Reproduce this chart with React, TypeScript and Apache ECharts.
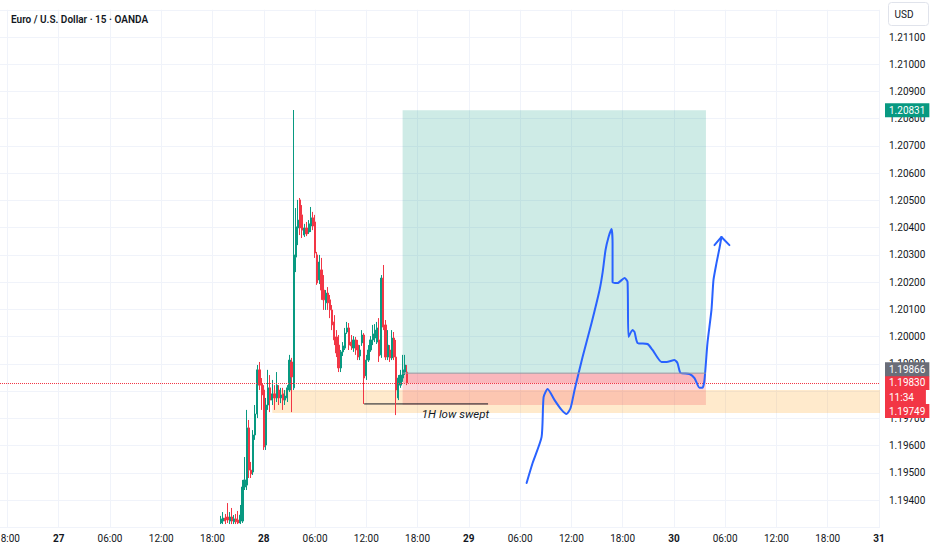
import React, { useEffect, useRef } from "react";
import * as echarts from "echarts";

const FONT = 'Roboto, "Noto Sans", sans-serif';

// ---- time axis: 15-minute slots starting 26th 17:15 ----
const SLOT_COUNT = 412;
const START_DAY = 26;
const START_MINUTES = 17 * 60 + 15;
const pad = (n: number) => (n < 10 ? "0" + n : "" + n);
const categories: string[] = [];
for (let i = 0; i < SLOT_COUNT; i++) {
  const m = START_MINUTES + 15 * i;
  const day = START_DAY + Math.floor(m / 1440);
  const mm = m % 1440;
  categories.push(`${day} ${pad(Math.floor(mm / 60))}:${pad(mm % 60)}`);
}

// ---- candles [open, close, low, high], first candle at slot 103 ----
const FIRST_CANDLE_SLOT = 103;
const candles: number[][] = [
  [1.19316, 1.19331, 1.19312, 1.19342],
  [1.19323, 1.19334, 1.19312, 1.19356],
  [1.19334, 1.19323, 1.19312, 1.19349],
  [1.19338, 1.19327, 1.19316, 1.19389],
  [1.19323, 1.19338, 1.19312, 1.19356],
  [1.19338, 1.19323, 1.19312, 1.19371],
  [1.1932, 1.19331, 1.19312, 1.19345],
  [1.19331, 1.1932, 1.19312, 1.19349],
  [1.19327, 1.19316, 1.19312, 1.1936],
  [1.19316, 1.19345, 1.19312, 1.19382],
  [1.19323, 1.19448, 1.19316, 1.19474],
  [1.19448, 1.19474, 1.19437, 1.19558],
  [1.19455, 1.19665, 1.19437, 1.19731],
  [1.19665, 1.1951, 1.19481, 1.19694],
  [1.1951, 1.19496, 1.19481, 1.1954],
  [1.19503, 1.19639, 1.19492, 1.19657],
  [1.19639, 1.19716, 1.19621, 1.19749],
  [1.19716, 1.19878, 1.19701, 1.19896],
  [1.19878, 1.19822, 1.19804, 1.19907],
  [1.19826, 1.19786, 1.19731, 1.19848],
  [1.19804, 1.19595, 1.19584, 1.19822],
  [1.19602, 1.19749, 1.19584, 1.19775],
  [1.19749, 1.19812, 1.19731, 1.19878],
  [1.19812, 1.19767, 1.19723, 1.19859],
  [1.19767, 1.1979, 1.19749, 1.19841],
  [1.1979, 1.19775, 1.19731, 1.19822],
  [1.19775, 1.19822, 1.1976, 1.1987],
  [1.19804, 1.19775, 1.19749, 1.19822],
  [1.19775, 1.19786, 1.19756, 1.19812],
  [1.1979, 1.19767, 1.19731, 1.19812],
  [1.19767, 1.19782, 1.19749, 1.19804],
  [1.19775, 1.19812, 1.1976, 1.19822],
  [1.19804, 1.19914, 1.19797, 1.19933],
  [1.19907, 1.19852, 1.19723, 1.19922],
  [1.19812, 1.203, 1.19804, 1.20832],
  [1.20292, 1.20403, 1.20237, 1.20472],
  [1.20399, 1.20428, 1.20336, 1.20502],
  [1.20502, 1.20399, 1.20373, 1.20509],
  [1.20447, 1.20391, 1.20362, 1.20483],
  [1.20373, 1.20399, 1.20366, 1.20414],
  [1.20399, 1.20377, 1.20369, 1.20421],
  [1.20384, 1.20414, 1.20377, 1.20428],
  [1.20406, 1.20436, 1.20384, 1.20476],
  [1.20436, 1.20406, 1.20391, 1.20458],
  [1.20421, 1.20307, 1.20289, 1.20447],
  [1.203, 1.20197, 1.2019, 1.20311],
  [1.20208, 1.20274, 1.20193, 1.203],
  [1.20245, 1.20171, 1.20135, 1.20289],
  [1.20171, 1.20135, 1.20098, 1.20226],
  [1.20124, 1.2016, 1.20098, 1.20171],
  [1.2016, 1.20124, 1.20098, 1.20182],
  [1.20135, 1.20098, 1.20068, 1.20153],
  [1.20098, 1.20043, 1.20024, 1.20116],
  [1.20054, 1.19988, 1.19969, 1.20079],
  [1.19999, 1.1994, 1.19925, 1.20024],
  [1.19969, 1.19885, 1.1987, 1.20006],
  [1.19885, 1.19944, 1.1987, 1.19951],
  [1.19944, 1.19966, 1.19929, 1.1998],
  [1.19958, 1.20013, 1.19951, 1.20032],
  [1.20017, 1.20032, 1.2001, 1.20054],
  [1.20032, 1.19969, 1.19951, 1.2005],
  [1.1998, 1.19966, 1.19951, 1.20006],
  [1.19958, 1.19988, 1.19944, 1.20002],
  [1.19988, 1.19951, 1.19933, 1.19999],
  [1.19969, 1.19925, 1.19914, 1.19988],
  [1.19929, 1.19951, 1.19914, 1.19969],
  [1.19977, 1.20006, 1.19966, 1.20024],
  [1.20006, 1.19848, 1.19753, 1.20013],
  [1.19856, 1.19914, 1.19841, 1.19933],
  [1.19914, 1.19951, 1.19907, 1.19969],
  [1.19951, 1.19988, 1.19944, 1.20002],
  [1.19988, 1.2001, 1.19969, 1.20043],
  [1.19995, 1.20024, 1.1998, 1.20046],
  [1.1998, 1.20032, 1.19973, 1.20054],
  [1.19988, 1.19929, 1.19907, 1.20068],
  [1.19933, 1.20215, 1.19922, 1.20226],
  [1.20215, 1.20035, 1.20024, 1.20263],
  [1.20043, 1.19925, 1.19914, 1.20061],
  [1.19925, 1.19969, 1.19914, 1.20024],
  [1.19951, 1.19922, 1.19907, 1.19969],
  [1.19922, 1.19995, 1.19914, 1.20024],
  [1.19995, 1.19925, 1.19914, 1.20017],
  [1.19925, 1.19804, 1.19712, 1.19988],
  [1.19775, 1.19848, 1.19767, 1.19859],
  [1.19822, 1.19859, 1.19812, 1.19878],
  [1.19848, 1.19878, 1.19834, 1.19933],
  [1.1987, 1.19896, 1.19859, 1.19933],
  [1.1987, 1.1983, 1.19822, 1.19896],
];

// ---- price levels ----
const LAST_PRICE = 1.1983;
const COUNTDOWN = "11:34";
const ENTRY_PRICE = 1.19866;
const TARGET_PRICE = 1.20831;
const STOP_PRICE = 1.19749;
const POSITION_SLOTS = [188, 330];
const ZONE_PRICES = [1.19804, 1.1972];
const ZONE_START_SLOT = 127;
const SWEEP_PRICE = 1.19753;
const SWEEP_SLOTS = [170, 228];
const SWEEP_LABEL_POINT = [197, 1.19716];

// ---- hand-drawn projection path [slot, price] ----
const pathPoints: number[][] = [
  [246.05, 1.19463], [248.86, 1.19536], [253.07, 1.19632], [254.0, 1.19778],
  [255.88, 1.19808], [259.15, 1.19767], [262.43, 1.19731], [264.77, 1.19716],
  [266.63, 1.19738], [268.5, 1.19804], [272.25, 1.19925], [276.46, 1.2005],
  [280.2, 1.20171], [281.6, 1.20234], [283.0, 1.20318], [284.42, 1.20366],
  [285.82, 1.20395], [286.29, 1.20344], [286.29, 1.20201], [288.63, 1.20197],
  [291.9, 1.20215], [293.3, 1.20201], [293.77, 1.19999], [295.64, 1.20024],
  [296.58, 1.20017], [297.98, 1.19977], [302.66, 1.19973], [305.0, 1.19951],
  [309.21, 1.19907], [311.55, 1.19907], [315.29, 1.19914], [316.7, 1.19903],
  [318.1, 1.19867], [322.3, 1.19863], [324.65, 1.19848], [326.99, 1.19812],
  [328.4, 1.19812], [329.33, 1.19841], [330.73, 1.19977], [332.6, 1.20098],
  [333.54, 1.20208], [334.94, 1.2027], [336.35, 1.20325], [337.28, 1.20366],
];
const arrowHead: number[][] = [[334.0, 1.20336], [337.28, 1.20366], [341.0, 1.20336]];

// ---- axis ----
const Y_MIN = 1.193;
const Y_MAX = 1.212;
const Y_STEP = 0.001;

const isLabelSlot = (idx: number) => (idx - 3) % 24 === 0;

export default function App() {
  const ref = useRef<HTMLDivElement>(null);
  useEffect(() => {
    document.body.style.margin = "0";
    const chart = echarts.init(ref.current!, null, { renderer: "svg" });

    const candleData = categories.map((_, i) => {
      const c = candles[i - FIRST_CANDLE_SLOT];
      return c ? c : ["-", "-", "-", "-"];
    });

    const HIDDEN_LINE = { color: "rgba(0,0,0,0)", width: 0 };
    const tag = (bg: string, text: string, extra: any = {}) => ({
      show: true,
      position: "end",
      distance: 5,
      formatter: text,
      color: "#ffffff",
      opacity: 1,
      backgroundColor: bg,
      padding: [1, 4, 1, 4],
      fontSize: 10,
      lineHeight: 12,
      fontFamily: FONT,
      ...extra,
    });

    const option: any = {
      animation: false,
      backgroundColor: "#ffffff",
      title: {
        text: "Euro / U.S. Dollar · 15 · OANDA",
        left: 6,
        top: 9,
        textStyle: { fontSize: 10, fontWeight: 600, color: "#131722", fontFamily: FONT },
      },
      grid: { left: 0, right: 52, top: 9.76, bottom: 22.68, containLabel: false, outerBoundsMode: "none" },
      xAxis: [
        {
          type: "category",
          data: categories,
          boundaryGap: true,
          axisLine: { show: false },
          axisTick: { show: false, interval: (i: number) => isLabelSlot(i) },
          splitLine: {
            show: true,
            interval: (i: number) => isLabelSlot(i),
            alignWithLabel: true,
            lineStyle: { color: "#f0f3fa", width: 1 },
          },
          axisLabel: {
            interval: (i: number) => isLabelSlot(i),
            margin: 6,
            hideOverlap: false,
            formatter: (v: string) => {
              const [d, t] = v.split(" ");
              return t === "00:00" ? `{d|${d}}` : `{t|${t}}`;
            },
            rich: {
              d: { fontSize: 10, fontWeight: "bold", color: "#131722", fontFamily: FONT },
              t: { fontSize: 10, color: "#131722", fontFamily: FONT },
            },
          },
        },
        { type: "value", min: -0.5, max: SLOT_COUNT - 0.5, show: false },
      ],
      yAxis: {
        type: "value",
        position: "right",
        min: Y_MIN,
        max: Y_MAX,
        interval: Y_STEP,
        axisLine: { show: false },
        axisTick: { show: false },
        splitLine: { show: true, lineStyle: { color: "#f0f3fa", width: 1 } },
        axisLabel: {
          margin: 9,
          fontSize: 10,
          color: "#131722",
          fontFamily: FONT,
          formatter: (v: number) => (v > Y_MAX - Y_STEP / 2 || v < Y_MIN + Y_STEP / 2 ? "" : v.toFixed(5)),
        },
      },
      series: [
        {
          type: "line",
          name: "zones",
          xAxisIndex: 1,
          z: 1,
          symbol: "none",
          data: SWEEP_SLOTS.map((s) => [s, SWEEP_PRICE]),
          lineStyle: { color: "#131722", width: 1 },
          markArea: {
            silent: true,
            data: [
              [
                { coord: [ZONE_START_SLOT, ZONE_PRICES[0]], itemStyle: { color: "rgba(255,152,0,0.2)" } },
                { coord: [SLOT_COUNT - 0.5, ZONE_PRICES[1]] },
              ],
              [
                { coord: [POSITION_SLOTS[0], TARGET_PRICE], itemStyle: { color: "rgba(8,153,129,0.2)" } },
                { coord: [POSITION_SLOTS[1], ENTRY_PRICE] },
              ],
              [
                { coord: [POSITION_SLOTS[0], ENTRY_PRICE], itemStyle: { color: "rgba(242,54,69,0.2)" } },
                { coord: [POSITION_SLOTS[1], STOP_PRICE] },
              ],
              [
                { coord: [POSITION_SLOTS[0], ENTRY_PRICE], itemStyle: { color: "rgba(242,54,69,0.2)" } },
                { coord: [POSITION_SLOTS[1], LAST_PRICE] },
              ],
            ],
          },
        },
        {
          type: "line",
          name: "entry",
          xAxisIndex: 1,
          z: 6,
          symbol: "none",
          data: POSITION_SLOTS.map((s) => [s, ENTRY_PRICE]),
          lineStyle: { color: "#9598a1", width: 1 },
          markLine: {
            silent: true,
            precision: 5,
            symbol: ["none", "none"],
            lineStyle: { color: "#f23645", type: "dotted", width: 1, opacity: 1 },
            data: [
              { yAxis: TARGET_PRICE, lineStyle: HIDDEN_LINE, label: tag("#089981", TARGET_PRICE.toFixed(5)) },
              {
                yAxis: (LAST_PRICE + STOP_PRICE) / 2,
                lineStyle: HIDDEN_LINE,
                label: tag("#f23645", COUNTDOWN, { offset: [0, 3], padding: [1, 12, 1, 4] }),
              },
              {
                yAxis: STOP_PRICE,
                lineStyle: HIDDEN_LINE,
                label: tag("#f23645", STOP_PRICE.toFixed(5), { offset: [0, 6] }),
              },
              {
                yAxis: LAST_PRICE,
                lineStyle: { color: "#f23645", type: "dotted", width: 1 },
                label: tag("#f23645", LAST_PRICE.toFixed(5)),
              },
              {
                yAxis: ENTRY_PRICE,
                lineStyle: HIDDEN_LINE,
                label: tag("#6a6d78", ENTRY_PRICE.toFixed(5), { offset: [0, -4] }),
              },
            ],
          },
        },
        {
          type: "candlestick",
          name: "EURUSD",
          xAxisIndex: 0,
          z: 3,
          barWidth: 1.7,
          data: candleData,
          itemStyle: {
            color: "#089981",
            color0: "#f23645",
            borderColor: "#089981",
            borderColor0: "#f23645",
            borderWidth: 1,
          },
        },
        {
          type: "scatter",
          name: "sweep-label",
          xAxisIndex: 1,
          z: 4,
          symbolSize: 0,
          itemStyle: { opacity: 1 },
          data: [SWEEP_LABEL_POINT],
          label: {
            show: true,
            position: "right",
            distance: 0,
            formatter: "1H low swept",
            fontStyle: "italic",
            fontSize: 11.5,
            color: "#131722",
            opacity: 1,
            fontFamily: FONT,
          },
        },
        {
          type: "line",
          name: "projection",
          xAxisIndex: 1,
          z: 5,
          symbol: "none",
          smooth: 0.2,
          data: pathPoints,
          lineStyle: { color: "#2962ff", width: 2, cap: "round", join: "round" },
        },
        {
          type: "line",
          name: "arrow",
          xAxisIndex: 1,
          z: 5,
          symbol: "none",
          data: arrowHead,
          lineStyle: { color: "#2962ff", width: 2, cap: "round", join: "round" },
        },
      ],
      graphic: [
        {
          type: "group",
          right: 3,
          top: 2,
          children: [
            {
              type: "rect",
              shape: { x: 0, y: 0, width: 40, height: 23, r: 3 },
              style: { fill: "#ffffff", stroke: "#e0e3eb", lineWidth: 1 },
            },
            {
              type: "text",
              x: 6,
              y: 7,
              style: { text: "USD", fontSize: 10, fill: "#131722", fontFamily: FONT },
            },
          ],
        },
      ],
    };

    chart.setOption(option);
    return () => chart.dispose();
  }, []);
  return <div ref={ref} style={{ width: 932, height: 550 }} />;
}
